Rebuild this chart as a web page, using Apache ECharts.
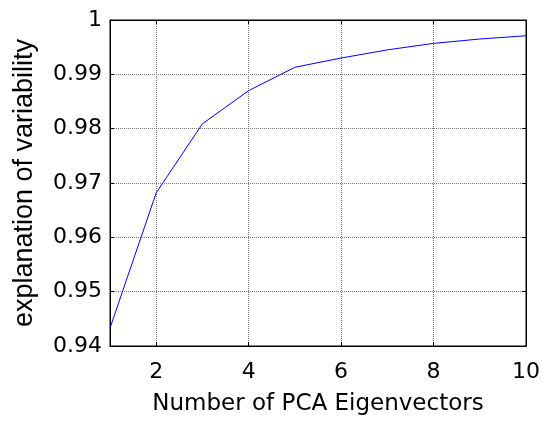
<!DOCTYPE html>
<html>
<head>
<meta charset="utf-8">
<script src="https://cdn.jsdelivr.net/npm/echarts@6/dist/echarts.min.js"></script>
<style>
  html, body { margin: 0; padding: 0; background: #fff; }
  #main { width: 543px; height: 421px; }
</style>
</head>
<body>
<div id="main"></div>
<script>
// data
const eigenvectors = [1, 2, 3, 4, 5, 6, 7, 8, 9, 10];
const variability = [0.9433, 0.9682, 0.9809, 0.9870, 0.9913, 0.9930, 0.9945, 0.9957, 0.9965, 0.9971];
const xTicks = [2, 4, 6, 8, 10];

// reference text is a bit wide, DejaVu fits its width better
const wideFont = 'DejaVu Sans, Arial, sans-serif';
const font = 'Liberation Sans, Arial, sans-serif';
const gridLine = { show: true, lineStyle: { color: '#777', type: [1, 1], width: 1 } };

const options = {
  backgroundColor: '#fff',
  animation: false,
  grid: {
    left: 110, top: 20, right: 16, bottom: 69,
    show: true, borderColor: '#000', borderWidth: 1
  },
  xAxis: [
    {
      type: 'value',
      min: 1, max: 10,
      name: 'Number of PCA Eigenvectors',
      nameLocation: 'middle',
      nameGap: 47,
      nameTextStyle: { color: '#000', fontSize: 23, fontFamily: wideFont },
      axisLine: { show: true, lineStyle: { color: '#000' } },
      axisTick: { show: true, inside: true, length: 4, customValues: xTicks, lineStyle: { color: '#000' } },
      axisLabel: { customValues: xTicks, color: '#000', fontSize: 22, fontFamily: wideFont, margin: 15 },
      splitLine: gridLine
    },
    {
      type: 'value',
      position: 'top',
      min: 1, max: 10,
      axisLine: { show: true, lineStyle: { color: '#000' } },
      axisTick: { show: true, inside: true, length: 4, customValues: xTicks, lineStyle: { color: '#000' } },
      axisLabel: { show: false },
      splitLine: { show: false }
    }
  ],
  yAxis: [
    {
      type: 'value',
      min: 0.94, max: 1, interval: 0.01,
      name: 'explanation of variability',
      nameLocation: 'middle',
      nameGap: 72,
      nameTextStyle: { color: '#000', fontSize: 27, fontFamily: font },
      axisLine: { show: true, lineStyle: { color: '#000' } },
      axisTick: { show: true, inside: true, length: 4, lineStyle: { color: '#000' } },
      axisLabel: { color: '#000', fontSize: 22, fontFamily: wideFont, margin: 8 },
      splitLine: gridLine
    },
    {
      type: 'value',
      position: 'right',
      min: 0.94, max: 1, interval: 0.01,
      axisLine: { show: true, lineStyle: { color: '#000' } },
      axisTick: { show: true, inside: true, length: 4, lineStyle: { color: '#000' } },
      axisLabel: { show: false },
      splitLine: { show: false }
    }
  ],
  series: [
    {
      type: 'line',
      data: eigenvectors.map((x, i) => [x, variability[i]]),
      showSymbol: false,
      lineStyle: { color: '#0000ff', width: 1 },
      itemStyle: { color: '#0000ff' }
    }
  ]
};

var myChart = echarts.init(document.getElementById('main'));
myChart.setOption(options);
</script>
</body>
</html>
